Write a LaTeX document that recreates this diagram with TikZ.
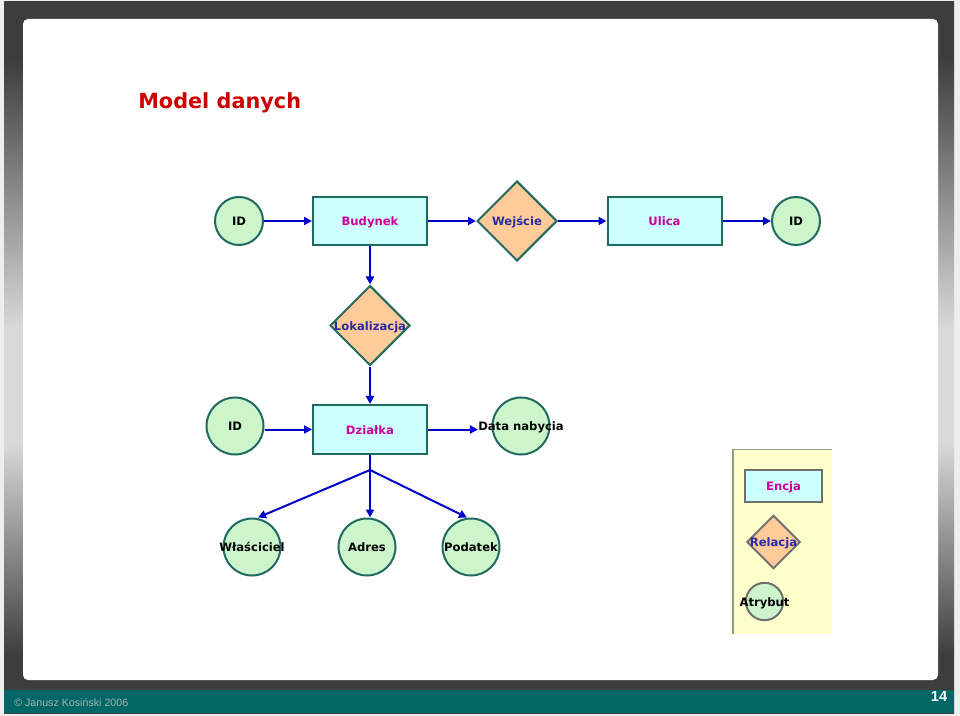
\documentclass[tikz,border=0pt]{standalone}
\usepackage{fontspec}
\setmainfont{DejaVu Sans}
\newfontfamily\arialf{Liberation Sans}
\usetikzlibrary{shapes.geometric,arrows.meta}
\definecolor{fdark}{HTML}{3D3D3D}
\definecolor{flight}{HTML}{D9D9D9}
\definecolor{pageedge}{HTML}{EEEEEE}
\definecolor{teal}{HTML}{006666}
\definecolor{nodeborder}{HTML}{216A60}
\definecolor{entfill}{HTML}{CCFFFF}
\definecolor{relfill}{HTML}{FFCC99}
\definecolor{attfill}{HTML}{CCF5CC}
\definecolor{entcol}{HTML}{CC0099}
\definecolor{relcol}{HTML}{2B2BA6}
\definecolor{arrowblue}{HTML}{0000CC}
\definecolor{titlered}{HTML}{CC0000}
\definecolor{legfill}{HTML}{FFFFCC}
\definecolor{legborder}{HTML}{9A9A80}
\definecolor{leggray}{HTML}{707070}
\definecolor{foottext}{HTML}{A8B4B4}
\pgfdeclareverticalshading{frameshade}{100bp}{color(0bp)=(fdark); color(29bp)=(fdark); color(44bp)=(flight); color(52bp)=(flight); color(71bp)=(fdark); color(100bp)=(fdark)}
\tikzset{
  nfont/.style={font=\bfseries\fontsize{8.7}{10}\selectfont, text height=7.4pt, text depth=0pt},
  ent/.style={rectangle, draw=nodeborder, line width=1.5pt, fill=entfill, minimum width=85.5pt, minimum height=36pt, inner sep=0pt, nfont, text=entcol},
  rel/.style={diamond, draw=nodeborder, line width=1.5pt, fill=relfill, minimum width=60pt, minimum height=60pt, inner sep=0pt},
  att/.style={circle, draw=nodeborder, line width=1.5pt, fill=attfill, minimum size=36pt, inner sep=0pt, nfont, text=black},
  bigatt/.style={att, minimum size=42.75pt},
  relt/.style={nfont, text=relcol, inner sep=0pt},
  attt/.style={nfont, text=black, inner sep=0pt},
  conn/.style={draw=arrowblue, line width=1.5pt, -{Triangle[length=6pt,width=6pt]}},
  plainconn/.style={draw=arrowblue, line width=1.5pt}
}
\begin{document}
\begin{tikzpicture}[x=0.75pt,y=-0.75pt]
\useasboundingbox (0,0) rectangle (960,716);
% background frame
\fill[pageedge] (0,0) rectangle (960,716);
\shade[shading=frameshade] (4,2) rectangle (954,713);
\fill[white, rounded corners=3.75pt] (23,19) rectangle (938,680);
\fill[teal] (4,690) rectangle (954,713);
\node[anchor=west, inner sep=0pt, text=foottext, font=\arialf\fontsize{8}{9}\selectfont] (foot) at (14,703) {© Janusz Kosiński 2006};
\node[inner sep=0pt, text=white, font=\arialf\bfseries\fontsize{11}{12}\selectfont] (pnum) at (939,696) {14};
% title
\node[anchor=base west, inner sep=0pt, text=titlered, font=\bfseries\fontsize{15.6}{18}\selectfont] (title) at (138,109) {Model danych};
% top row
\node[att] (id1) at (239,221) {ID};
\node[ent] (bud) at (370,221) {Budynek};
\node[rel, label={[relt]center:Wejście}] (wej) at (517,221) {};
\node[ent] (uli) at (664.5,221) {Ulica};
\node[att] (id2) at (796,221) {ID};
\draw[conn] (id1) -- (bud);
\draw[conn] (bud) -- (wej);
\draw[conn] (wej) -- (uli);
\draw[conn] (uli) -- (id2);
% Lokalizacja
\node[rel, label={[relt]center:Lokalizacja}] (lok) at (370,325.5) {};
\draw[conn] (bud) -- (lok);
% Dzialka row
\node[ent, minimum height=36.75pt] (dz) at (370,429.5) {Działka};
\draw[conn] (lok) -- (dz);
\node[bigatt] (id3) at (235,426) {ID};
\draw[conn] (id3.east |- dz.west) -- (dz.west);
\node[bigatt] (dn) at (521,426) {};
\node[attt] (dnt) at (521,426) {Data nabycia};
\draw[conn] (dz.east) -- (dz.east -| dnt.west);
% bottom row
\coordinate (br) at (370,470);
\node[bigatt] (wl) at (252,547) {};
\node[attt] (wlt) at (252,547) {Właściciel};
\node[bigatt] (ad) at (367,547) {};
\node[attt] (adt) at (367,547) {Adres};
\node[bigatt] (po) at (471,547) {};
\node[attt] (pot) at (471,547) {Podatek};
\draw[plainconn] (dz.south) -- (br);
\draw[conn] (br) -- ([xshift=4.5pt]wl.north);
\draw[conn] (br) -- (br |- ad.north);
\draw[conn] (br) -- ([xshift=-3pt]po.north);
% legend
\fill[legfill] (733,449) rectangle (832,634);
\draw[legborder, line width=0.5pt] (733,449) -- (832,449);
\draw[legborder, line width=1.5pt] (733,449) -- (733,634);
\node[ent, draw=leggray, minimum width=57.75pt, minimum height=24pt] (enc) at (783.5,486) {Encja};
\node[rel, draw=leggray, minimum width=40pt, minimum height=40pt] (rl) at (773.5,542) {};
\node[relt] (rlt) at (773.5,542) {Relacja};
\node[att, draw=leggray, minimum size=28pt] (at) at (764.5,601.5) {};
\node[attt] (att) at (764.5,601.5) {Atrybut};
\end{tikzpicture}
\end{document}
